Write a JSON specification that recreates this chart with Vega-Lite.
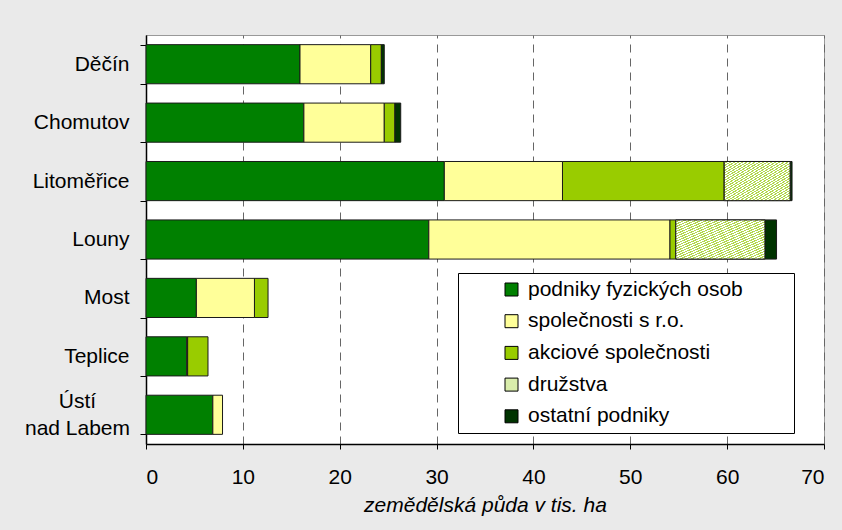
{
  "$schema": "https://vega.github.io/schema/vega-lite/v6.json",
  "autosize": "none",
  "width": 678,
  "height": 409,
  "padding": {"left": 146, "top": 35, "right": 18, "bottom": 86},
  "background": "#eaeaea",
  "config": {
    "font": "Liberation Sans",
    "view": {"fill": "white", "stroke": "#999999", "strokeWidth": 1},
    "axis": {"labelFont": "Liberation Sans", "titleFont": "Liberation Sans", "labelColor": "black", "titleColor": "black"}
  },
  "data": {
    "values": [
      {"region": "Děčín", "type": "podniky fyzických osob", "ord": 1, "value": 15.9},
      {"region": "Děčín", "type": "společnosti s r.o.", "ord": 2, "value": 7.3},
      {"region": "Děčín", "type": "akciové společnosti", "ord": 3, "value": 1.1},
      {"region": "Děčín", "type": "ostatní podniky", "ord": 5, "value": 0.3},
      {"region": "Chomutov", "type": "podniky fyzických osob", "ord": 1, "value": 16.3},
      {"region": "Chomutov", "type": "společnosti s r.o.", "ord": 2, "value": 8.3},
      {"region": "Chomutov", "type": "akciové společnosti", "ord": 3, "value": 1.1},
      {"region": "Chomutov", "type": "ostatní podniky", "ord": 5, "value": 0.6},
      {"region": "Litoměřice", "type": "podniky fyzických osob", "ord": 1, "value": 30.8},
      {"region": "Litoměřice", "type": "společnosti s r.o.", "ord": 2, "value": 12.2},
      {"region": "Litoměřice", "type": "akciové společnosti", "ord": 3, "value": 16.7},
      {"region": "Litoměřice", "type": "družstva", "ord": 4, "value": 6.8},
      {"region": "Litoměřice", "type": "ostatní podniky", "ord": 5, "value": 0.2},
      {"region": "Louny", "type": "podniky fyzických osob", "ord": 1, "value": 29.2},
      {"region": "Louny", "type": "společnosti s r.o.", "ord": 2, "value": 24.9},
      {"region": "Louny", "type": "akciové společnosti", "ord": 3, "value": 0.6},
      {"region": "Louny", "type": "družstva", "ord": 4, "value": 9.2},
      {"region": "Louny", "type": "ostatní podniky", "ord": 5, "value": 1.2},
      {"region": "Most", "type": "podniky fyzických osob", "ord": 1, "value": 5.2},
      {"region": "Most", "type": "společnosti s r.o.", "ord": 2, "value": 6.0},
      {"region": "Most", "type": "akciové společnosti", "ord": 3, "value": 1.4},
      {"region": "Teplice", "type": "podniky fyzických osob", "ord": 1, "value": 4.2},
      {"region": "Teplice", "type": "společnosti s r.o.", "ord": 2, "value": 0.1},
      {"region": "Teplice", "type": "akciové společnosti", "ord": 3, "value": 2.1},
      {"region": "Ústí nad Labem", "type": "podniky fyzických osob", "ord": 1, "value": 6.9},
      {"region": "Ústí nad Labem", "type": "společnosti s r.o.", "ord": 2, "value": 1.0}
    ]
  },
  "transform": [
    {"stack": "value", "groupby": ["region"], "sort": [{"field": "ord", "order": "ascending"}], "as": ["x0", "x1"]}
  ],
  "encoding": {
    "y": {
      "field": "region",
      "type": "nominal",
      "sort": ["Děčín", "Chomutov", "Litoměřice", "Louny", "Most", "Teplice", "Ústí nad Labem"],
      "scale": {"paddingInner": 0.33, "paddingOuter": 0.165},
      "axis": {
        "title": null,
        "labelFontSize": 21,
        "labelPadding": {"condition": {"test": "datum.value == 'Ústí nad Labem'", "value": 63}, "value": 11},
        "labelAlign": {"condition": {"test": "datum.value == 'Ústí nad Labem'", "value": "center"}, "value": "right"},
        "labelOffset": {"condition": {"test": "datum.value == 'Ústí nad Labem'", "value": -13}, "value": 0},
        "tickSize": 6,
        "tickColor": "black",
        "tickBand": "extent",
        "domainColor": "black",
        "domainWidth": 1.5,
        "labelExpr": "datum.value == 'Ústí nad Labem' ? ['Ústí', 'nad Labem'] : datum.label",
        "labelLineHeight": 27
      }
    },
    "x": {
      "field": "x0",
      "type": "quantitative",
      "scale": {"domain": [0, 70], "nice": false},
      "axis": {
        "title": "zemědělská půda v tis. ha",
        "titleFontSize": 21,
        "titleFontStyle": "italic",
        "titleFontWeight": "normal",
        "titlePadding": 7,
        "labelFontSize": 21,
        "labelPadding": 17,
        "values": [0, 10, 20, 30, 40, 50, 60, 70],
        "tickSize": 5,
        "tickColor": "black",
        "domainColor": "black",
        "domainWidth": 1.5,
        "grid": true,
        "gridColor": "#666666",
        "gridDash": [8, 6],
        "gridWidth": 1
      }
    },
    "x2": {"field": "x1"}
  },
  "layer": [
    {
      "mark": {"type": "bar", "stroke": "#1a1a1a", "strokeWidth": 1},
      "encoding": {
        "color": {
          "field": "type",
          "type": "nominal",
          "scale": {
            "domain": ["podniky fyzických osob", "společnosti s r.o.", "akciové společnosti", "družstva", "ostatní podniky"],
            "range": ["#008000", "#ffff99", "#99cc00", "#d9edab", "#003300"]
          },
          "legend": {
            "title": null,
            "orient": "none",
            "legendX": 312,
            "legendY": 238,
            "strokeColor": "black",
            "fillColor": "white",
            "padding": 6,
            "symbolType": "square",
            "symbolSize": 169,
            "symbolStrokeColor": "black",
            "symbolStrokeWidth": 1,
            "labelFontSize": 21,
            "labelFont": "Liberation Sans",
            "labelColor": "black",
            "rowPadding": 9.7,
            "symbolOffset": 37,
            "labelOffset": 6,
            "labelLimit": 500,
            "labelExpr": "datum.label == 'podniky fyzických osob' ? datum.label + '\u2800\u2800\u2800' : datum.label"
          }
        }
      }
    },
    {
      "transform": [{"filter": "datum.type == 'družstva'"}],
      "mark": {
        "type": "bar",
        "stroke": "#1a1a1a",
        "strokeWidth": 1,
        "fill": {
          "gradient": "linear", "x1": 0, "y1": 0, "x2": 1, "y2": 1,
          "stops": [
            {"offset": 0, "color": "#ffffff"}, {"offset": 0.015625, "color": "#ffffff"}, {"offset": 0.015625, "color": "#b3d94d"}, {"offset": 0.03125, "color": "#b3d94d"},
            {"offset": 0.03125, "color": "#ffffff"}, {"offset": 0.046875, "color": "#ffffff"}, {"offset": 0.046875, "color": "#b3d94d"}, {"offset": 0.0625, "color": "#b3d94d"},
            {"offset": 0.0625, "color": "#ffffff"}, {"offset": 0.078125, "color": "#ffffff"}, {"offset": 0.078125, "color": "#b3d94d"}, {"offset": 0.09375, "color": "#b3d94d"},
            {"offset": 0.09375, "color": "#ffffff"}, {"offset": 0.109375, "color": "#ffffff"}, {"offset": 0.109375, "color": "#b3d94d"}, {"offset": 0.125, "color": "#b3d94d"},
            {"offset": 0.125, "color": "#ffffff"}, {"offset": 0.140625, "color": "#ffffff"}, {"offset": 0.140625, "color": "#b3d94d"}, {"offset": 0.15625, "color": "#b3d94d"},
            {"offset": 0.15625, "color": "#ffffff"}, {"offset": 0.171875, "color": "#ffffff"}, {"offset": 0.171875, "color": "#b3d94d"}, {"offset": 0.1875, "color": "#b3d94d"},
            {"offset": 0.1875, "color": "#ffffff"}, {"offset": 0.203125, "color": "#ffffff"}, {"offset": 0.203125, "color": "#b3d94d"}, {"offset": 0.21875, "color": "#b3d94d"},
            {"offset": 0.21875, "color": "#ffffff"}, {"offset": 0.234375, "color": "#ffffff"}, {"offset": 0.234375, "color": "#b3d94d"}, {"offset": 0.25, "color": "#b3d94d"},
            {"offset": 0.25, "color": "#ffffff"}, {"offset": 0.265625, "color": "#ffffff"}, {"offset": 0.265625, "color": "#b3d94d"}, {"offset": 0.28125, "color": "#b3d94d"},
            {"offset": 0.28125, "color": "#ffffff"}, {"offset": 0.296875, "color": "#ffffff"}, {"offset": 0.296875, "color": "#b3d94d"}, {"offset": 0.3125, "color": "#b3d94d"},
            {"offset": 0.3125, "color": "#ffffff"}, {"offset": 0.328125, "color": "#ffffff"}, {"offset": 0.328125, "color": "#b3d94d"}, {"offset": 0.34375, "color": "#b3d94d"},
            {"offset": 0.34375, "color": "#ffffff"}, {"offset": 0.359375, "color": "#ffffff"}, {"offset": 0.359375, "color": "#b3d94d"}, {"offset": 0.375, "color": "#b3d94d"},
            {"offset": 0.375, "color": "#ffffff"}, {"offset": 0.390625, "color": "#ffffff"}, {"offset": 0.390625, "color": "#b3d94d"}, {"offset": 0.40625, "color": "#b3d94d"},
            {"offset": 0.40625, "color": "#ffffff"}, {"offset": 0.421875, "color": "#ffffff"}, {"offset": 0.421875, "color": "#b3d94d"}, {"offset": 0.4375, "color": "#b3d94d"},
            {"offset": 0.4375, "color": "#ffffff"}, {"offset": 0.453125, "color": "#ffffff"}, {"offset": 0.453125, "color": "#b3d94d"}, {"offset": 0.46875, "color": "#b3d94d"},
            {"offset": 0.46875, "color": "#ffffff"}, {"offset": 0.484375, "color": "#ffffff"}, {"offset": 0.484375, "color": "#b3d94d"}, {"offset": 0.5, "color": "#b3d94d"},
            {"offset": 0.5, "color": "#ffffff"}, {"offset": 0.515625, "color": "#ffffff"}, {"offset": 0.515625, "color": "#b3d94d"}, {"offset": 0.53125, "color": "#b3d94d"},
            {"offset": 0.53125, "color": "#ffffff"}, {"offset": 0.546875, "color": "#ffffff"}, {"offset": 0.546875, "color": "#b3d94d"}, {"offset": 0.5625, "color": "#b3d94d"},
            {"offset": 0.5625, "color": "#ffffff"}, {"offset": 0.578125, "color": "#ffffff"}, {"offset": 0.578125, "color": "#b3d94d"}, {"offset": 0.59375, "color": "#b3d94d"},
            {"offset": 0.59375, "color": "#ffffff"}, {"offset": 0.609375, "color": "#ffffff"}, {"offset": 0.609375, "color": "#b3d94d"}, {"offset": 0.625, "color": "#b3d94d"},
            {"offset": 0.625, "color": "#ffffff"}, {"offset": 0.640625, "color": "#ffffff"}, {"offset": 0.640625, "color": "#b3d94d"}, {"offset": 0.65625, "color": "#b3d94d"},
            {"offset": 0.65625, "color": "#ffffff"}, {"offset": 0.671875, "color": "#ffffff"}, {"offset": 0.671875, "color": "#b3d94d"}, {"offset": 0.6875, "color": "#b3d94d"},
            {"offset": 0.6875, "color": "#ffffff"}, {"offset": 0.703125, "color": "#ffffff"}, {"offset": 0.703125, "color": "#b3d94d"}, {"offset": 0.71875, "color": "#b3d94d"},
            {"offset": 0.71875, "color": "#ffffff"}, {"offset": 0.734375, "color": "#ffffff"}, {"offset": 0.734375, "color": "#b3d94d"}, {"offset": 0.75, "color": "#b3d94d"},
            {"offset": 0.75, "color": "#ffffff"}, {"offset": 0.765625, "color": "#ffffff"}, {"offset": 0.765625, "color": "#b3d94d"}, {"offset": 0.78125, "color": "#b3d94d"},
            {"offset": 0.78125, "color": "#ffffff"}, {"offset": 0.796875, "color": "#ffffff"}, {"offset": 0.796875, "color": "#b3d94d"}, {"offset": 0.8125, "color": "#b3d94d"},
            {"offset": 0.8125, "color": "#ffffff"}, {"offset": 0.828125, "color": "#ffffff"}, {"offset": 0.828125, "color": "#b3d94d"}, {"offset": 0.84375, "color": "#b3d94d"},
            {"offset": 0.84375, "color": "#ffffff"}, {"offset": 0.859375, "color": "#ffffff"}, {"offset": 0.859375, "color": "#b3d94d"}, {"offset": 0.875, "color": "#b3d94d"},
            {"offset": 0.875, "color": "#ffffff"}, {"offset": 0.890625, "color": "#ffffff"}, {"offset": 0.890625, "color": "#b3d94d"}, {"offset": 0.90625, "color": "#b3d94d"},
            {"offset": 0.90625, "color": "#ffffff"}, {"offset": 0.921875, "color": "#ffffff"}, {"offset": 0.921875, "color": "#b3d94d"}, {"offset": 0.9375, "color": "#b3d94d"},
            {"offset": 0.9375, "color": "#ffffff"}, {"offset": 0.953125, "color": "#ffffff"}, {"offset": 0.953125, "color": "#b3d94d"}, {"offset": 0.96875, "color": "#b3d94d"},
            {"offset": 0.96875, "color": "#ffffff"}, {"offset": 0.984375, "color": "#ffffff"}, {"offset": 0.984375, "color": "#b3d94d"}, {"offset": 1, "color": "#b3d94d"}
          ]
        }
      }
    }
  ]
}
